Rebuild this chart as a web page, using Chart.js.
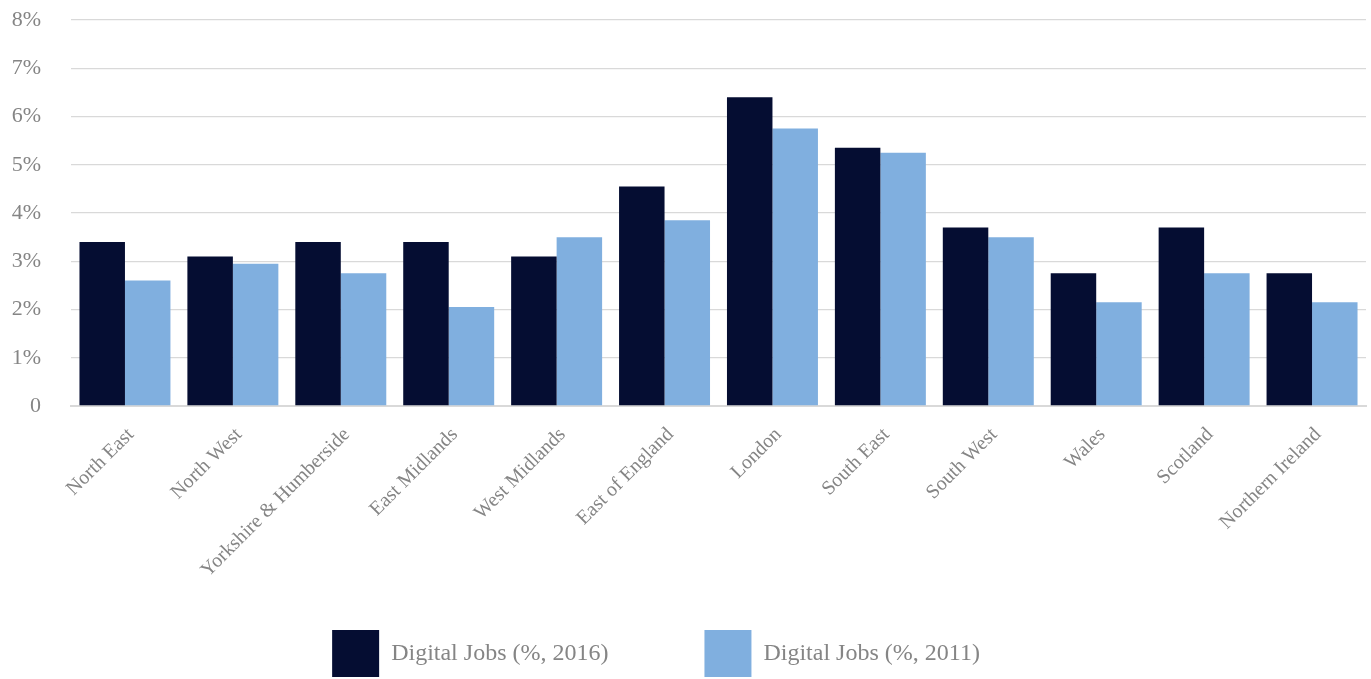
<!DOCTYPE html>
<html>
<head>
<meta charset="utf-8">
<script src="https://cdn.jsdelivr.net/npm/chart.js@4"></script>
<style>
  html, body { margin: 0; padding: 0; background: #fff; }
  #wrap { width: 1371px; height: 679px; }
</style>
</head>
<body>
<div id="wrap"><canvas id="chart"></canvas></div>
<script>
// regions along the x axis
const regions = [
    "North East", "North West", "Yorkshire & Humberside", "East Midlands",
    "West Midlands", "East of England", "London", "South East",
    "South West", "Wales", "Scotland", "Northern Ireland"
];

// share of digital jobs (%)
const jobs2016 = [3.4, 3.1, 3.4, 3.4, 3.1, 4.55, 6.4, 5.35, 3.7, 2.75, 3.7, 2.75];
const jobs2011 = [2.6, 2.95, 2.75, 2.05, 3.5, 3.85, 5.75, 5.25, 3.5, 2.15, 2.75, 2.15];

const seriesLabels = ["Digital Jobs (%, 2016)", "Digital Jobs (%, 2011)"];

const textGray = '#858585';
const serif = "'Liberation Serif', 'DejaVu Serif', serif";

// trailing spaces widen the legend items so they sit apart like the original
const gapAfter = [12, 9];

document.addEventListener('DOMContentLoaded', () => {
    const ctx = document.getElementById('chart').getContext('2d');

    new Chart(ctx, {
        type: 'bar',
        data: {
            labels: regions,
            datasets: [
                { label: seriesLabels[0] + ' '.repeat(gapAfter[0]), data: jobs2016, backgroundColor: '#050d32' },
                { label: seriesLabels[1] + ' '.repeat(gapAfter[1]), data: jobs2011, backgroundColor: '#80afdf' }
            ]
        },
        options: {
            responsive: true,
            maintainAspectRatio: false,
            animation: false,
            layout: { padding: { top: 0, right: 5, left: 0, bottom: -8 } },
            datasets: {
                bar: { categoryPercentage: 0.843, barPercentage: 1.0 }
            },
            plugins: {
                tooltip: { enabled: false },
                legend: {
                    position: 'bottom',
                    labels: {
                        boxWidth: 47,
                        boxHeight: 47,
                        padding: 24,
                        color: textGray,
                        font: { family: serif, size: 24 }
                    }
                }
            },
            scales: {
                x: {
                    grid: { display: false },
                    border: { color: '#d9d9d9', width: 2 },
                    afterFit: scale => { scale.height = 200; },
                    ticks: {
                        color: textGray,
                        minRotation: 45,
                        maxRotation: 45,
                        padding: 9,
                        labelOffset: 6,
                        font: { family: serif, size: 20 }
                    }
                },
                y: {
                    min: 0,
                    max: 8,
                    grid: { color: '#d9d9d9', lineWidth: 1.3, drawTicks: false },
                    border: { display: false },
                    afterFit: scale => {
                        scale.width = 71;
                        scale.paddingTop = 20;
                        scale.paddingBottom = 10;
                    },
                    ticks: {
                        stepSize: 1,
                        padding: 30,
                        color: textGray,
                        font: { family: serif, size: 22 },
                        callback: v => v === 0 ? '0' : v + '%'
                    }
                }
            }
        }
    });
});
</script>
</body>
</html>
